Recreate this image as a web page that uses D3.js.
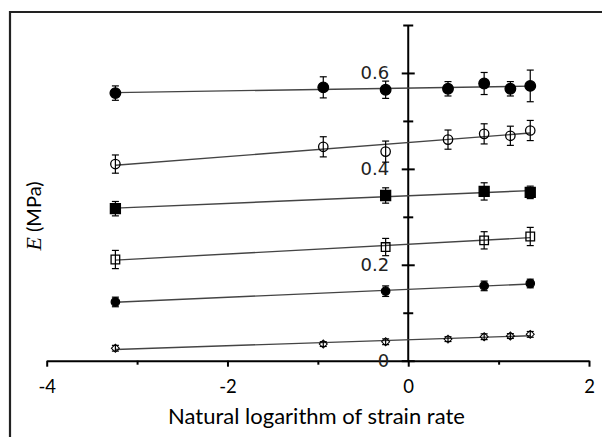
<!DOCTYPE html>
<html>
<head>
<meta charset="utf-8">
<script src="https://cdn.jsdelivr.net/npm/d3@7"></script>
<style>
  body { margin:0; background:#fff; }
  svg { display:block; }
</style>
</head>
<body>
<div id="chart-area"></div>
<script>
// natural log of strain rate
const xAll = [-3.24, -0.94, -0.25, 0.44, 0.84, 1.13, 1.35];
const xSub = [-3.24, -0.25, 0.84, 1.35];

// E (MPa) and error bars, one pair per series (top to bottom)
const eFilledCircle = [0.558, 0.570, 0.565, 0.567, 0.578, 0.567, 0.573];
const errFilledCircle = [0.015, 0.022, 0.018, 0.015, 0.023, 0.015, 0.033];
const eOpenCircle = [0.410, 0.446, 0.436, 0.461, 0.473, 0.469, 0.480];
const errOpenCircle = [0.019, 0.021, 0.022, 0.020, 0.021, 0.020, 0.021];
const eFilledSquare = [0.317, 0.3445, 0.353, 0.351];
const errFilledSquare = [0.015, 0.016, 0.018, 0.013];
const eOpenSquare = [0.211, 0.237, 0.251, 0.259];
const errOpenSquare = [0.019, 0.018, 0.018, 0.019];
const eFilledSmall = [0.1225, 0.145, 0.156, 0.161];
const errFilledSmall = [0.010, 0.011, 0.010, 0.009];
const eOpenDiamond = [0.026, 0.0347, 0.0395, 0.045, 0.050, 0.0514, 0.0549];
const errOpenDiamond = [0.006, 0.005, 0.006, 0.005, 0.006, 0.005, 0.006];

const xMajor = [-4, -2, 0, 2];
const xMinor = [-3, -1, 1];
const yMajor = [0, 0.2, 0.4, 0.6];
const yMinor = [0.1, 0.3, 0.5, 0.7];

const series = [
  {x: xAll, y: eFilledCircle, err: errFilledCircle, shape: "circle", r: 5.3, filled: true},
  {x: xAll, y: eOpenCircle, err: errOpenCircle, shape: "circle", r: 4.7, filled: false},
  {x: xSub, y: eFilledSquare, err: errFilledSquare, shape: "square", r: 5, filled: true},
  {x: xSub, y: eOpenSquare, err: errOpenSquare, shape: "square", r: 4.3, filled: false},
  {x: xSub, y: eFilledSmall, err: errFilledSmall, shape: "circle", r: 4.2, filled: true},
  {x: xAll, y: eOpenDiamond, err: errOpenDiamond, shape: "diamond", r: 4, filled: false}
];

const W = 602, H = 437;
const sansFont = "Lato, 'Open Sans', sans-serif";

var svg = d3.select("#chart-area").append("svg")
    .attr("width", W)
    .attr("height", H);

// outer frame (only top and left edges fall inside the picture)
svg.append("path")
   .attr("d", "M10," + H + "V12H" + W)
   .attr("fill", "none")
   .attr("stroke", "#222")
   .attr("stroke-width", 2.2);

var xScale = d3.scaleLinear().domain([-4, 2]).range([46.7, 589]);
var yScale = d3.scaleLinear().domain([0, 0.7]).range([360.7, 25]);

// x axis: major + minor ticks pointing down
var xAxis = svg.append("g")
   .attr("transform", `translate(0,${yScale(0)})`)
   .call(d3.axisBottom(xScale).tickValues(xMajor).tickSize(6).tickSizeOuter(0).tickPadding(13)
          .tickFormat(d => String(d)));
xAxis.select(".domain").attr("stroke-width", 2);
xAxis.selectAll(".tick line").attr("stroke-width", 2);
xAxis.selectAll("text")
     .attr("font-family", sansFont)
     .attr("font-size", 18.5)
     .attr("fill", "#000");

var xMinorAxis = svg.append("g")
   .attr("transform", `translate(0,${yScale(0)})`)
   .call(d3.axisBottom(xScale).tickValues(xMinor).tickSize(4).tickFormat(""));
xMinorAxis.select(".domain").remove();
xMinorAxis.selectAll(".tick line").attr("stroke-width", 2);

// y axis sits at x = 0, ticks cross the line
var yAxis = svg.append("g")
   .attr("transform", `translate(${xScale(0)},0)`)
   .call(d3.axisLeft(yScale).tickValues(yMajor).tickSize(0).tickPadding(19)
          .tickFormat(d => d === 0 ? "0" : d3.format(".1f")(d)));
yAxis.select(".domain").attr("d", `M0,${yScale(0)}V${yScale(0.7)}`).attr("stroke-width", 2);
yAxis.selectAll(".tick line").attr("x1", -6.5).attr("x2", 6.5).attr("stroke-width", 2);
yAxis.selectAll("text")
     .attr("font-family", "'DejaVu Sans', sans-serif")
     .attr("font-size", 18)
     .attr("fill", "#222");

var yMinorAxis = svg.append("g")
   .attr("transform", `translate(${xScale(0)},0)`)
   .call(d3.axisLeft(yScale).tickValues(yMinor).tickSize(0).tickFormat(""));
yMinorAxis.select(".domain").remove();
yMinorAxis.selectAll(".tick line").attr("x1", -5).attr("x2", 5).attr("stroke-width", 2);

// linear trend lines (least squares, like the spreadsheet trendline)
var fit = function(xs, ys){
  var mx = d3.mean(xs), my = d3.mean(ys);
  var sxy = d3.sum(xs, (x, i) => (x - mx) * (ys[i] - my));
  var sxx = d3.sum(xs, x => (x - mx) * (x - mx));
  var b = sxy / sxx;
  return x => my + b * (x - mx);
};

var line = d3.line().x(d => xScale(d[0])).y(d => yScale(d[1]));

series.forEach(function(s){
  var f = fit(s.x, s.y);
  var ends = d3.extent(s.x);
  svg.append("path")
     .attr("d", line([[ends[0], f(ends[0])], [ends[1], f(ends[1])]]))
     .attr("fill", "none")
     .attr("stroke", "#444")
     .attr("stroke-width", 1.4);
});

// markers and error bars
series.forEach(function(s){
  var pts = s.x.map((x, i) => ({x: x, y: s.y[i], e: s.err[i]}));
  var g = svg.append("g");

  var sym;
  if (s.shape === "circle") sym = d3.symbol().type(d3.symbolCircle).size(Math.PI * s.r * s.r);
  else if (s.shape === "square") sym = d3.symbol().type(d3.symbolSquare).size(4 * s.r * s.r);
  else sym = d3.symbol().type(d3.symbolSquare).size(2 * s.r * s.r);

  g.selectAll("path.mark")
   .data(pts)
   .enter()
   .append("path")
   .attr("class", "mark")
   .attr("d", sym)
   .attr("transform", d => `translate(${xScale(d.x)},${yScale(d.y)})` + (s.shape === "diamond" ? " rotate(45)" : ""))
   .attr("fill", s.filled ? "#000" : "none")
   .attr("stroke", "#000")
   .attr("stroke-width", s.shape === "diamond" ? 1 : 1.3);

  var eb = g.selectAll("g.eb").data(pts).enter().append("g").attr("class", "eb");
  eb.append("line")
    .attr("x1", d => xScale(d.x)).attr("x2", d => xScale(d.x))
    .attr("y1", d => yScale(d.y - d.e)).attr("y2", d => yScale(d.y + d.e));
  eb.append("line")
    .attr("x1", d => xScale(d.x) - 3.5).attr("x2", d => xScale(d.x) + 3.5)
    .attr("y1", d => yScale(d.y + d.e)).attr("y2", d => yScale(d.y + d.e));
  eb.append("line")
    .attr("x1", d => xScale(d.x) - 3.5).attr("x2", d => xScale(d.x) + 3.5)
    .attr("y1", d => yScale(d.y - d.e)).attr("y2", d => yScale(d.y - d.e));
  eb.selectAll("line").attr("stroke", "#000").attr("stroke-width", 1.2);
});

// axis titles
var xt = svg.append("text")
   .attr("x", 316.5)
   .attr("y", 424)
   .attr("text-anchor", "middle")
   .attr("font-family", sansFont)
   .attr("font-size", 19)
   .attr("fill", "#000")
   .text("Natural logarithm of strain rate");
// scale the title so it spans the same width as in the original (~297px)
var tw = xt.node().getComputedTextLength();
if (tw > 0) xt.attr("font-size", Math.min(24, 19 * 297 / tw));

var yt = svg.append("text")
   .attr("transform", "translate(41,216) rotate(-90)")
   .attr("text-anchor", "middle")
   .attr("font-size", 20)
   .attr("fill", "#000");
yt.append("tspan")
  .attr("font-family", "'Liberation Serif', serif")
  .attr("font-style", "italic")
  .attr("font-size", 22)
  .attr("fill", "#000")
  .text("E");
yt.append("tspan")
  .attr("font-family", sansFont)
  .attr("fill", "#000")
  .text(" (MPa)");
</script>
</body>
</html>
